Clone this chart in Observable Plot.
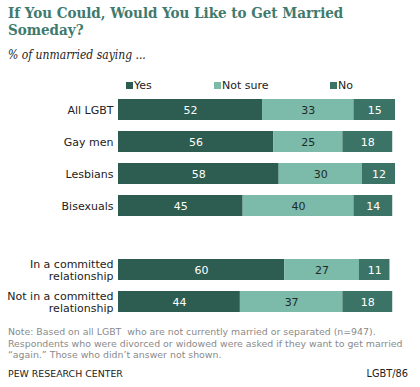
<!DOCTYPE html>
<html><head><meta charset="utf-8">
<script src="https://cdn.jsdelivr.net/npm/d3@7"></script>
<script src="https://cdn.jsdelivr.net/npm/@observablehq/plot@0.6"></script>
<style>
html,body{margin:0;padding:0;background:#fff;}
#wrap{position:relative;width:420px;height:387px;overflow:hidden;font-family:"DejaVu Sans",Verdana,sans-serif;}
.abs{position:absolute;white-space:nowrap;}
#title{left:8px;top:5px;font-family:"DejaVu Serif Condensed","DejaVu Serif",Georgia,serif;font-stretch:condensed;font-weight:bold;font-size:15px;line-height:17px;color:#3f7a6e;}
#sub{left:8px;top:48px;font-family:"DejaVu Serif Condensed","DejaVu Serif",Georgia,serif;font-stretch:condensed;font-style:italic;font-size:12px;color:#222;}
.leg{top:79px;font-size:11px;color:#222;}
.sw{display:inline-block;width:7px;height:7px;margin-right:1px;}
#note{left:8px;top:326px;font-size:9.4px;line-height:11.5px;color:#8a8a8a;white-space:pre;}
#foot{left:8px;top:368px;font-size:9.4px;color:#222;}
#code{right:12px;top:368px;font-size:9.8px;color:#222;}
#chart{position:absolute;left:0;top:94px;}
</style></head>
<body><div id="wrap">
<div id="title" class="abs">If You Could, Would You Like to Get Married<br>Someday?</div>
<div id="sub" class="abs">% of unmarried saying ...</div>
<div id="legend"></div>
<div id="note" class="abs"></div>
<div id="foot" class="abs">PEW RESEARCH  CENTER</div>
<div id="code" class="abs">LGBT/86</div>
<div id="chart"></div>
</div>
<script>
const groups = ["All LGBT", "Gay men", "Lesbians", "Bisexuals", "In a committed\nrelationship", "Not in a committed\nrelationship"];
const responses = ["Yes", "Not sure", "No"];
const yesValues = [52, 56, 58, 45, 60, 44];
const notSureValues = [33, 25, 30, 40, 27, 37];
const noValues = [15, 18, 12, 14, 11, 18];
const colors = ["#2d5c50", "#7cbaaa", "#3b7366"];
const textColors = ["#ffffff", "#1e2a26", "#ffffff"];
const legendX = [126, 214, 330];
const noteText = "Note: Based on all LGBT  who are not currently married or separated (n=947).\nRespondents who were divorced or widowed were asked if they want to get married\n\u201Cagain.\u201D Those who didn\u2019t answer not shown.";

const spacer = " ";
const rowDomain = [...groups.slice(0, 4), spacer, ...groups.slice(4)];
const seriesValues = [yesValues, notSureValues, noValues];
const data = [];
groups.forEach((g, i) => responses.forEach((r, j) => data.push({group: g, response: r, value: seriesValues[j][i]})));

document.getElementById("note").textContent = noteText;
const leg = document.getElementById("legend");
responses.forEach((r, j) => {
  const d = document.createElement("div");
  d.className = "abs leg";
  d.style.left = legendX[j] + "px";
  d.innerHTML = `<span class="sw" style="background:${colors[j]}"></span>${r}`;
  leg.appendChild(d);
});

const plot = Plot.plot({
  width: 420,
  height: 224,
  marginLeft: 118,
  marginRight: 25,
  marginTop: 0,
  marginBottom: 0,
  style: {fontFamily: "DejaVu Sans, Verdana, sans-serif", fontSize: "11px", background: "transparent"},
  x: {domain: [0, 100], axis: null},
  y: {domain: rowDomain, paddingInner: 0.34, paddingOuter: 0.17, label: null},
  color: {domain: responses, range: colors},
  marks: [
    Plot.barX(data, {x: "value", y: "group", fill: "response", order: responses}),
    Plot.text(data, Plot.stackX({x: "value", y: "group", z: "response", order: responses, text: d => String(d.value),
      fill: d => textColors[responses.indexOf(d.response)], fontSize: 11})),
    Plot.axisY({tickSize: 0, tickPadding: 5, fontSize: 11, fill: "#222", lineHeight: 1.1})
  ]
});
document.getElementById("chart").appendChild(plot);
</script>
</body></html>
